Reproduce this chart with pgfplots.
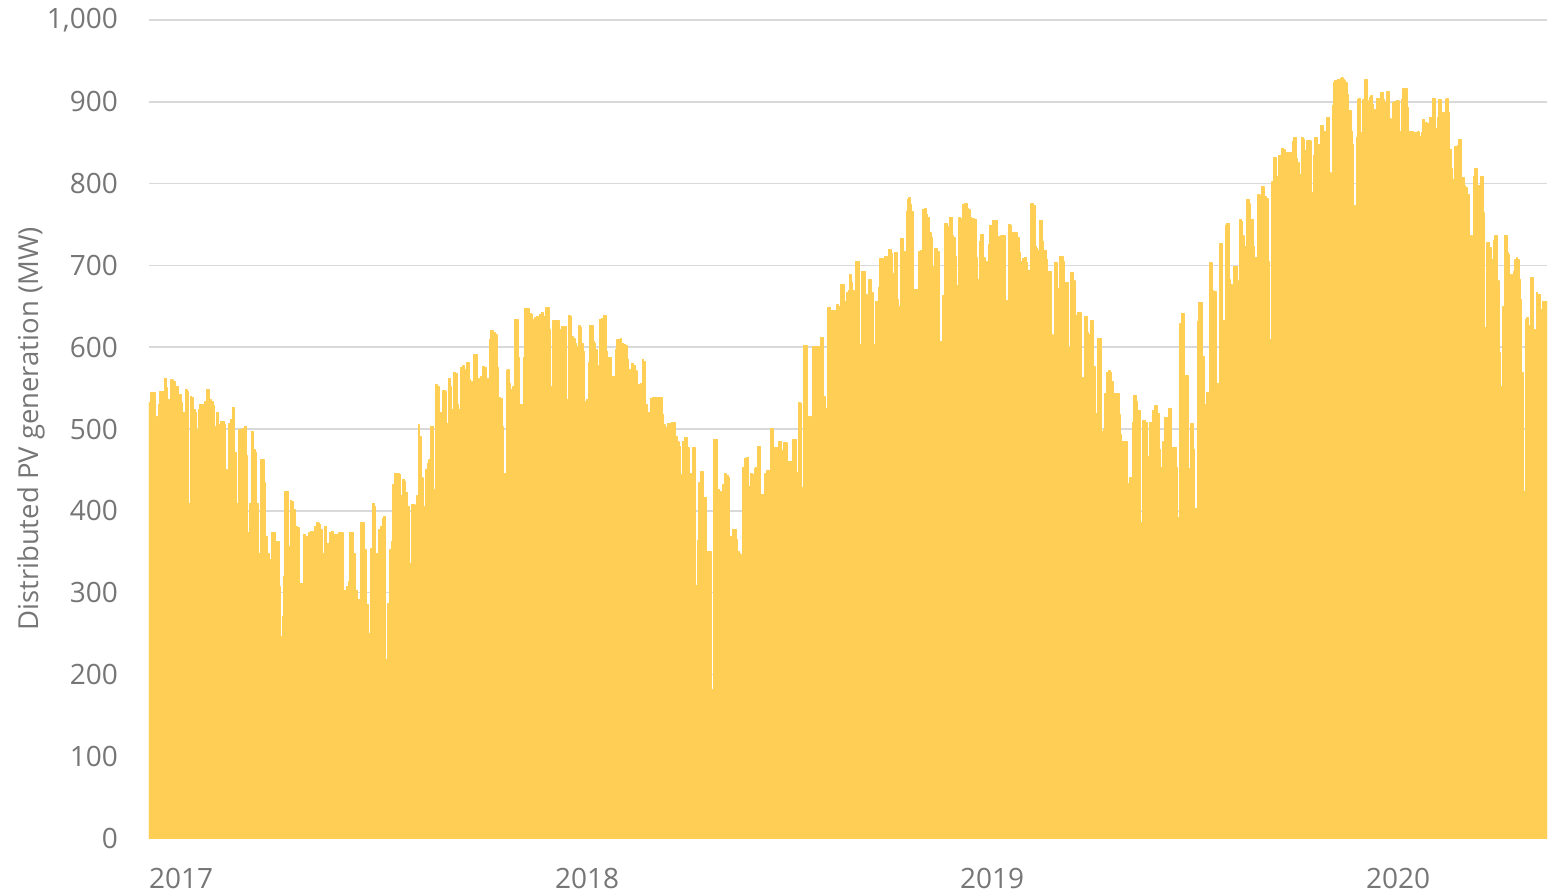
\documentclass[border=0pt]{standalone}
\usepackage{pgfplots}
\pgfplotsset{compat=1.18}
\usepackage{fontspec}
\setmainfont{Open Sans}
\definecolor{pv}{RGB}{255,206,84}
\definecolor{txt}{RGB}{118,118,118}
\definecolor{grd}{RGB}{217,217,217}
\begin{document}
\begin{tikzpicture}
\path[use as bounding box] (-149bp,-55bp) rectangle (1408bp,838bp);
\begin{axis}[
  at={(0,0)}, anchor=south west,
  scale only axis, width=1398bp, height=818bp,
  xmin=0, xmax=1398, ymin=0, ymax=1000,
  axis line style={draw=none},
  major tick length=0pt,
  xtick={0,406,811,1217}, xticklabels={2017,2018,2019,2020},
  ytick={0,100,...,1000},
  ymajorgrids, grid style={grd, line width=1.5bp},
  tick label style={text=txt, font=\fontsize{28bp}{34bp}\selectfont, inner sep=0pt},
  xticklabel style={anchor=north west, yshift=-30bp, text depth=0pt, text height=20bp},
  yticklabel style={anchor=east, xshift=-31bp},
  /pgf/number format/assume math mode=true,
  /pgf/number format/1000 sep={,},
  ylabel={Distributed PV generation (MW)},
  ylabel style={at={(axis description cs:-0.0844,0.5)}, anchor=center, text=txt, font=\fontsize{27.5bp}{33bp}\selectfont, inner sep=0pt},
]
\addplot[const plot mark left, fill=pv, draw=pv, line width=1.2bp, line join=round] coordinates {
(0,532)(2,545)(5.3,544)(6.7,515)(8,444)(9.3,530)(11,546)(13.3,546)(15.3,562)(17.3,550)
(18.7,536)(20,526)(22,560)(24,558)(26,552)(28,552)(29.3,542)(32,532)(33.3,520)(35.3,503)
(36.7,548)(38,546)(39.3,409)(41.3,540)(42.7,538)(44.7,524)(46,520)(47.7,499)(49.3,524)(50.7,530)
(52.7,530)(54.3,409)(56,534)(58,548)(60,536)(62,534)(64,528)(65.3,503)(67.3,520)(69.3,505)
(71.3,509)(73.3,509)(75.3,505)(76.7,450)(78,340)(79.3,507)(81.3,511)(83.3,526)(85.3,471)(87.3,409)
(89.3,499)(90.7,373)(92,499)(94,501)(95.3,503)(97.3,467)(98.7,373)(100.7,409)(102.7,497)(104,475)
(106,471)(107.3,409)(109.3,348)(111.3,462)(113.3,462)(115.3,434)(116.7,369)(118.7,348)(120.7,340)(122.7,373)
(124,373)(126,340)(128,362)(130,307)(131.3,246)(133.3,271)(134.7,320)(136,424)(138,424)(139.3,356)
(141.3,413)(142.7,411)(144.7,401)(146.7,381)(148.7,379)(150.7,311)(152.7,311)(154.7,371)(156.7,369)(158.7,356)
(160,373)(162,375)(164,287)(166,381)(168,385)(170,383)(171.3,377)(173.3,348)(175.3,381)(177.3,340)
(178.7,360)(180.7,373)(182.7,375)(184.7,303)(186,371)(188,371)(190,373)(192,373)(194,287)(195.3,303)
(197.3,307)(199.3,313)(200.7,373)(202.7,373)(204.7,348)(206.7,303)(208.7,291)(210,291)(211.3,385)(213.3,385)
(215.3,352)(217.3,285)(219.3,218)(220.7,250)(222,354)(223.3,409)(225.3,405)(226.7,348)(228,344)(230,377)
(231.3,381)(233.3,391)(234.7,393)(236.7,218)(238.7,287)(240.7,352)(242.7,362)(244,432)(246,446)(248,446)
(250,444)(251.3,418)(253.3,438)(255.3,436)(256.7,422)(258.7,405)(260.7,336)(262.7,407)(264.7,407)(266,389)
(268,418)(269.3,505)(270.7,491)(272,440)(274,405)(275.3,375)(276.7,450)(278.7,458)(280,462)(281.3,503)
(283.3,503)
(284.3,426)(286.7,554)(288.7,552)(290.7,513)(292,520)(294,547)(296,546)(297.3,507)(299.3,562)(301.3,552)
(302.7,524)(304.7,569)(306.7,568)(308,530)(309.3,524)(311.3,575)(313.3,577)(315.3,573)(316.7,473)(318,581)
(320,560)(321.3,558)(323.3,513)(324.7,591)(326,591)(328,562)(330,513)(331.3,564)(333.3,576)(335.3,575)
(337.3,562)(339.3,560)(340.7,609)(342,620)(344,618)(346,616)(348,575)(349.3,538)(351.3,537)(353.3,503)
(354,438)(354.7,356)(356,446)(357.3,571)(358.7,573)(360,556)(361.3,511)(362.7,548)(364,552)(366,634)
(368,634)(369.3,587)(370.7,530)(372,530)(373.3,479)(374.7,587)(376,647)(378,647)(380,641)(382,640)
(383.3,634)(384.7,618)(386,636)(387.3,637)(389.3,620)(390.7,640)(392.7,642)(394.7,638)(396.7,648)(398.7,649)
(400,622)(401.3,430)(402.7,552)(404,633)(406,633)(408,633)(410,622)(411.3,613)(412.7,625)(414.7,625)
(416,625)(417.3,536)(418.7,528)(420,639)(421.3,638)(422.7,613)(424.7,611)(426,605)(427.3,577)(428.7,601)
(430,626)(431.3,624)(432.7,605)(434,595)(435.3,533)(436.7,532)(438,536)(439.3,581)(440.7,627)(442,627)
(444,607)(445.3,605)(446.7,597)(448,577)(449.3,576)(450.7,634)(452.7,635)(454.7,639)(456,639)(457.3,595)
(458.7,558)(460,587)(461.3,587)(462.7,487)(464,564)(465.3,564)(466.7,597)(468,609)(469.3,609)(471.3,610)
(472.7,605)(474.7,603)(476.7,602)(478,585)(479.3,572)(481.3,571)(482.7,580)(484.7,577)(486.7,571)(488,529)
(489.3,554)(491.3,555)(493.3,585)(494.7,583)(496,530)(498,518)(499.3,520)(501.3,537)(503.3,538)(505.3,538)
(507.3,538)(509.3,538)(511.3,538)(513.3,518)(514.7,505)(516.7,502)(518.7,507)(520,507)(521.3,271)(522.7,508)
(524.7,508)(526,491)(528,484)(530,479)(531.3,444)(532.7,444)(534,485)(535.3,489)(536.7,489)(538.7,477)
(540,446)(541.3,446)(542.7,430)(544,477)(545.3,477)(546.7,309)(548.7,364)(550,434)(551.3,448)(552.7,448)
(554,416)(555.3,416)(557.3,350)(559.3,350)(560.7,350)(562,152)(563.3,181)(564.7,487)
(565,487)(566.7,487)(568.7,426)(570.7,424)(572,413)(574,432)(575.3,445)(577.3,443)(579.3,441)(580.7,303)
(582,369)(584,377)(585.3,377)(587.3,365)(588.7,350)(590,348)(591.3,346)(592.3,333)(593.3,453)(595.3,464)
(597.3,465)(599.3,430)(601.3,445)(603.3,444)(605.3,451)(606.7,453)(608.7,479)(610,479)(611.3,400)(612.7,420)
(614.7,420)(616,445)(618,449)(619.3,449)(621.3,501)(622.7,500)(624,455)(625.3,477)(626.7,477)(628.7,445)
(630,485)(631.3,485)(632.7,474)(634.7,483)(636,483)(638,460)(640,460)(642,460)(644,487)(645.3,487)
(647.3,388)(648.7,447)(650,532)(651.3,531)(652.7,428)(654.7,602)(656.7,602)(658,496)(660,515)(661.3,515)
(662.7,455)(664,601)(666,601)(668,601)(670,586)(672,612)(673.3,612)(674.7,539)(676.7,525)(678.7,648)
(680,649)(681.3,588)(682.7,645)(684.7,645)(686,614)(688,652)(689.3,650)(690.7,622)(692,677)(694,676)
(695.3,510)(696.7,656)(698,667)(699.3,669)(700.7,689)(702,679)(703.3,669)(705.3,662)(706.7,705)(708.7,705)
(710,603)(711.3,603)(712.7,693)(714.7,692)(716.7,664)(718,603)(719.3,683)(720.7,683)(722,667)(724,603)
(725.3,468)(726.7,656)(728,656)(729.3,673)(730.7,708)(732,708)(734,707)(735.3,711)(736.7,711)(738,693)
(739.3,719)(740.7,719)(742,715)(743.3,690)(745.3,716)(746.7,716)(748,658)(749.3,649)(750.7,650)(752,733)
(753.3,733)(754.7,717)(756,713)(757.3,766)(758.7,781)(760,783)(761.3,774)(762.7,766)(764,610)(765.3,670)
(767.3,671)(768.7,671)(770,717)(771.3,718)(773.3,768)(775.3,769)(777.3,762)(778.7,759)(780,740)(782,734)
(783.3,698)(784.7,662)(786,721)(787.3,721)(788.7,717)(790,605)(792,607)(794,663)(795.3,751)(797.3,751)
(798.7,747)(800.7,759)(802,759)(803.3,736)(804.7,734)(806,711)(807.3,629)(808.7,675)(810,759)(811.3,757)
(812.7,751)(814,774)(816,776)(818,770)(819.3,768)(821.3,759)(822.7,753)(824,757)(825.3,756)(827.3,709)
(828.7,683)(829.3,468)(830.7,729)(832,738)(833.3,738)(834.7,709)(836,705)(838,679)(839.3,726)(840.7,749)
(842,749)(843.3,755)(844.7,755)
(845.3,755)(846.7,755)(848.7,725)(850,735)(852,736)(854,736)(855.3,736)(856.7,657)(858,629)(859.3,750)
(861.3,749)(862.7,732)(864,740)(866,740)(868,734)(870,716)(871.3,705)(873.3,708)(875.3,710)(877.3,704)
(878.7,694)(880.7,694)(882,775)(883.3,775)(884.7,773)(886,723)(887.3,721)(888.7,718)(890.7,755)(892,755)
(893.3,729)(894.7,718)(896,718)(897.3,707)(898.7,692)(900,692)(901.3,692)(902.7,615)(904,542)(905.3,704)
(906.7,704)(908,672)(909.3,514)(910.7,711)(912,711)(914,705)(915.3,633)(916.7,679)(918,679)(919.3,600)
(920.7,593)(922,691)(923.3,691)(924.7,681)(926,639)(927.3,639)(928.7,642)(930.7,642)(932.7,466)(934,563)
(935.3,638)(936.7,638)(938,618)(939.3,615)(940.7,615)(942,633)(943.3,632)(944.7,576)(946,440)(947.3,519)
(948.7,611)(950.7,611)(952,374)(953.3,497)(954.7,499)(956,543)(957.3,569)(959.3,571)(961.3,569)(962.7,558)
(964,394)(965.3,543)(966.7,543)(968.7,543)(970,517)(971.3,493)(972.7,405)(974,485)(975.3,485)(976.7,485)
(978,433)(979.3,372)(980.7,440)(982,440)(983.3,508)(984.7,541)(986,541)(987.3,534)(988.7,522)(990,523)
(991.3,385)(992.7,385)(994,510)(995.3,510)(996.7,508)(998,466)(999.3,442)(1000.7,508)(1002,508)(1003.3,523)
(1004.7,523)(1006,528)(1007.3,528)(1008.7,519)(1010,475)(1011.3,394)(1012.7,453)(1014,484)(1015.3,514)(1016.7,514)
(1018,484)(1019.3,525)(1020.7,525)(1022,446)(1023.3,477)(1024.7,477)(1026,477)(1027.3,453)(1028.3,240)(1029.7,392)
(1031,629)(1032.3,641)(1033.7,641)(1035,565)(1036.3,565)(1037.7,565)(1039,451)(1040.3,451)(1041.7,506)(1043,506)
(1044.3,475)(1045.7,403)(1047,370)(1048.3,631)(1049.7,655)(1051,655)(1052.3,655)(1053.7,589)(1055,530)(1056.3,530)
(1057.7,545)(1059,545)(1060.3,703)(1061.7,703)(1063,669)(1064.3,668)(1065.7,668)(1067,556)(1068.3,556)(1069.7,400)
(1071,727)(1072.3,727)(1073.7,578)(1075,633)(1076.3,749)(1077.7,751)(1079,751)(1080.3,683)(1081.7,677)(1083,648)
(1084.3,699)(1085.7,699)(1087,699)(1088.3,545)(1089.7,681)(1091,756)(1092.3,754)(1093.7,736)(1095,723)(1096.3,723)
(1097.7,780)(1099,780)(1100.3,775)(1101.7,756)(1103,756)(1104.3,723)(1105.7,668)(1107,710)(1108.3,786)(1109.7,786)
(1111,760)(1112.3,796)(1113.7,796)(1115,784)(1116.3,784)(1117.7,782)(1119,705)(1120.3,593)(1121.7,609)(1123,802)
(1124.3,832)
(1125.3,832)(1127.3,809)(1128.7,732)(1130,834)(1131.3,834)(1132.7,843)(1134.7,841)(1136.7,837)(1138,838)(1139.3,838)
(1140.7,838)(1142,746)(1143.3,851)(1144.7,856)(1146,856)(1147.3,830)(1148.7,826)(1150,811)(1151.3,811)(1152.7,856)
(1154,854)(1155.3,795)(1156.7,840)(1158,852)(1159.3,852)(1160.7,852)(1162,789)(1163.3,789)(1164.7,834)(1166,856)
(1167.3,856)(1168.7,834)(1170,848)(1171.3,871)(1172.7,871)(1174,864)(1175.3,864)(1176.7,860)(1178,881)(1179.3,881)
(1180.7,813)(1182,811)(1183.3,895)(1184.7,924)(1186,926)(1187.3,926)(1188.7,927)(1190,924)(1191.3,928)(1192.7,929)
(1194,927)(1195.3,926)(1196.7,924)(1198,909)(1199.3,889)(1200.7,889)(1202,864)(1203.3,848)(1204.7,736)(1206,773)
(1207.3,856)(1208.7,903)(1210,904)(1211.3,862)(1212.7,862)(1214,903)(1215.3,927)(1216.7,927)(1218,901)(1219.3,891)
(1220.7,905)(1222,907)(1223.3,897)(1224.7,856)(1226,891)(1227.3,904)(1228.7,904)(1230,891)(1231.3,911)(1232.7,911)
(1234,903)(1235.3,869)(1236.7,899)(1238,912)(1239.3,912)(1240.7,879)(1242,877)(1243.3,899)(1244.7,899)(1246,900)
(1247.3,901)(1248.7,901)(1250,864)(1251.3,744)(1252.7,903)(1254,916)(1255.3,916)(1256.7,916)(1258,893)(1259.3,842)
(1260.7,864)(1262,863)(1263.3,863)(1264.7,862)(1266,860)(1267.3,862)(1268.7,863)(1270,858)(1271.3,781)(1272.7,862)
(1274,878)(1275.3,874)(1276.7,874)(1278,873)(1279.3,866)(1280.7,881)(1282,881)(1283.3,904)(1284.7,904)(1286,867)
(1287.3,687)(1288.7,881)(1290,903)(1291.3,903)(1292.7,885)(1294,887)(1295.3,844)(1296.7,903)(1298,904)(1299.3,887)
(1300.7,842)(1302,818)(1303.3,728)(1304.7,805)(1306,845)(1307.3,845)(1308.7,847)(1310,854)(1311.3,854)(1312.7,807)
(1314,807)(1315.3,797)(1316.7,795)(1318,787)(1319.3,787)(1320.7,734)(1322,736)(1323.3,595)(1324.7,809)(1326,818)
(1327.3,818)(1328.7,797)(1330,797)(1331.3,809)(1332.7,809)(1334,764)(1335.3,618)(1336.7,624)(1338,728)(1339.3,728)
(1340.7,722)(1342,671)(1343.3,707)(1344.7,730)(1346,736)(1347.3,736)(1348.7,681)(1350,593)(1351.3,552)(1352.7,532)
(1354,650)(1355.3,737)(1356.7,737)(1358,716)(1359.3,713)(1360.7,654)(1362,689)(1363.3,689)(1364.7,693)(1366,707)
(1367.3,709)(1368.7,707)(1370,683)(1371.3,658)(1372.7,569)(1374,401)(1375.3,424)(1376.7,634)(1378,636)(1379.3,622)
(1380.7,626)(1382,685)(1383.3,685)(1384.7,622)(1386,589)(1387.3,667)(1388.7,664)(1390,664)(1391.3,646)(1392.7,646)
(1394,656)(1395.3,656)(1396.7,656)(1398,646)
} \closedcycle;
\end{axis}
\end{tikzpicture}
\end{document}
